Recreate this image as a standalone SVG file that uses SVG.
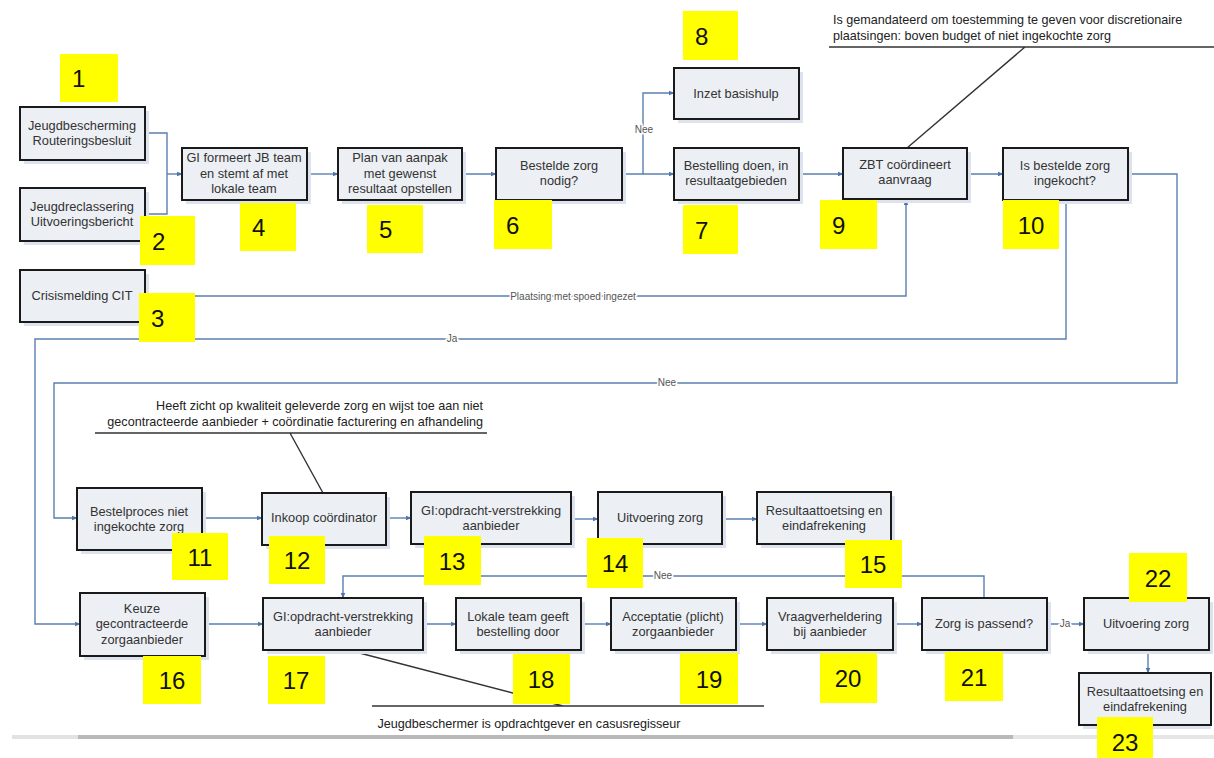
<svg xmlns="http://www.w3.org/2000/svg" width="1214" height="758" viewBox="0 0 1214 758">
<defs>
<marker id="arr" viewBox="0 0 10 10" refX="9" refY="5" markerWidth="6" markerHeight="6" orient="auto" markerUnits="userSpaceOnUse">
<path d="M0,1 L10,5 L0,9 z" fill="#4f74a8"/>
</marker>
<style>
.bx{fill:#eceff4;stroke:#1a1a1a;stroke-width:2}
.sh{fill:#dce3ee}
.t{font-family:"Liberation Sans",Arial,sans-serif;font-size:12.8px;fill:#333;text-anchor:middle}
.c{fill:none;stroke:#5b7fb0;stroke-width:1.4}
.ca{fill:none;stroke:#5b7fb0;stroke-width:1.4;marker-end:url(#arr)}
.lb{font-family:"Liberation Sans",Arial,sans-serif;font-size:10px;fill:#555;text-anchor:middle;stroke:#fff;stroke-width:3;paint-order:stroke}
.an{font-family:"Liberation Sans",Arial,sans-serif;font-size:12.6px;fill:#222}
.al{fill:none;stroke:#333;stroke-width:1.4}
.y{fill:#ffff00}
.n{font-family:"Liberation Sans",Arial,sans-serif;font-size:24px;fill:#111}
</style>
</defs>
<rect width="1214" height="758" fill="#fff"/>

<g id="annotations">
<text class="an" x="833" y="24">Is gemandateerd om toestemming te geven voor discretionaire</text>
<text class="an" x="833" y="40">plaatsingen: boven budget of niet ingekochte zorg</text>
<path class="al" d="M829,47 H1214 M1025,47 L907,148"/>
<text class="an" x="483" y="410" text-anchor="end">Heeft zicht op kwaliteit geleverde zorg en wijst toe aan niet</text>
<text class="an" x="483" y="426" text-anchor="end">gecontracteerde aanbieder + coördinatie facturering en afhandeling</text>
<path class="al" d="M95,433 H487 M290,433 L323,493"/>
<path class="al" d="M372,706 H764 M348,650 L563,706"/>
<text class="an" x="529" y="728" text-anchor="middle">Jeugdbeschermer is opdrachtgever en casusregisseur</text>
<rect x="12" y="735" width="66" height="4" fill="#e2e2e2"/>
<rect x="78" y="735" width="935" height="4" fill="#b9b9b9"/>
<rect x="1013" y="735" width="201" height="4" fill="#e6e6e6"/>
</g>

<g id="connectors">
<path class="c" d="M145,133 H167 V214 H145"/>
<path class="ca" d="M167,174 H182"/>
<path class="ca" d="M307,174 H338"/>
<path class="ca" d="M462,174 H496"/>
<path class="ca" d="M622,174 H674"/>
<path class="ca" d="M643,174 V93 H674"/>
<path class="ca" d="M799,174 H843"/>
<path class="ca" d="M967,174 H1003"/>
<path class="ca" d="M1128,174 H1177 V383 H54 V518 H77"/>
<path class="ca" d="M1066,200 V339 H35 V624 H80"/>
<path class="ca" d="M145,296 H906 V200"/>
<path class="ca" d="M202,518 H262"/>
<path class="ca" d="M386,518 H411"/>
<path class="ca" d="M571,519 H598"/>
<path class="ca" d="M722,519 H757"/>
<path class="ca" d="M205,624 H263"/>
<path class="ca" d="M423,624 H456"/>
<path class="ca" d="M581,624 H611"/>
<path class="ca" d="M736,624 H767"/>
<path class="ca" d="M893,624 H922"/>
<path class="ca" d="M1047,624 H1084"/>
<path class="ca" d="M984,598 V576 H343 V598"/>
<path class="ca" d="M1148,650 V673"/>
<text class="lb" x="644" y="133">Nee</text>
<text class="lb" x="667" y="386">Nee</text>
<text class="lb" x="452" y="342">Ja</text>
<text class="lb" x="573" y="299.5">Plaatsing met spoed ingezet</text>
<text class="lb" x="663" y="579">Nee</text>
<text class="lb" x="1065" y="627">Ja</text>
</g>

<g id="n1"><rect class="sh" x="24" y="111" width="125" height="53"/><rect class="bx" x="20" y="107" width="125" height="53"/><text class="t" x="82" y="130">Jeugdbescherming</text><text class="t" x="82" y="145">Routeringsbesluit</text></g>
<g id="n2"><rect class="sh" x="24" y="192" width="125" height="53"/><rect class="bx" x="20" y="188" width="125" height="53"/><text class="t" x="82" y="211">Jeugdreclassering</text><text class="t" x="82" y="226">Uitvoeringsbericht</text></g>
<g id="n3"><rect class="sh" x="24" y="274" width="125" height="52"/><rect class="bx" x="20" y="270" width="125" height="52"/><text class="t" x="82" y="300">Crisismelding CIT</text></g>
<g id="n4"><rect class="sh" x="186" y="152" width="125" height="52"/><rect class="bx" x="182" y="148" width="125" height="52"/><text class="t" x="244" y="162">GI formeert JB team</text><text class="t" x="244" y="178">en stemt af met</text><text class="t" x="244" y="193">lokale team</text></g>
<g id="n5"><rect class="sh" x="342" y="152" width="124" height="52"/><rect class="bx" x="338" y="148" width="124" height="52"/><text class="t" x="400" y="162">Plan van aanpak</text><text class="t" x="400" y="178">met gewenst</text><text class="t" x="400" y="193">resultaat opstellen</text></g>
<g id="n6"><rect class="sh" x="500" y="152" width="126" height="52"/><rect class="bx" x="496" y="148" width="126" height="52"/><text class="t" x="559" y="170">Bestelde zorg</text><text class="t" x="559" y="185">nodig?</text></g>
<g id="n7"><rect class="sh" x="678" y="152" width="125" height="52"/><rect class="bx" x="674" y="148" width="125" height="52"/><text class="t" x="736" y="170">Bestelling doen, in</text><text class="t" x="736" y="185">resultaatgebieden</text></g>
<g id="n8"><rect class="sh" x="678" y="72" width="125" height="51"/><rect class="bx" x="674" y="68" width="125" height="51"/><text class="t" x="736" y="98">Inzet basishulp</text></g>
<g id="n9"><rect class="sh" x="847" y="152" width="124" height="51"/><rect class="bx" x="843" y="148" width="124" height="51"/><text class="t" x="905" y="169">ZBT coördineert</text><text class="t" x="905" y="184">aanvraag</text></g>
<g id="n10"><rect class="sh" x="1007" y="152" width="125" height="52"/><rect class="bx" x="1003" y="148" width="125" height="52"/><text class="t" x="1065" y="170">Is bestelde zorg</text><text class="t" x="1065" y="185">ingekocht?</text></g>
<g id="n11"><rect class="sh" x="81" y="492" width="125" height="62"/><rect class="bx" x="77" y="488" width="125" height="62"/><text class="t" x="139" y="516">Bestelproces niet</text><text class="t" x="139" y="531">ingekochte zorg</text></g>
<g id="n12"><rect class="sh" x="266" y="497" width="124" height="52"/><rect class="bx" x="262" y="493" width="124" height="52"/><text class="t" x="324" y="522">Inkoop coördinator</text></g>
<g id="n13"><rect class="sh" x="415" y="496" width="160" height="52"/><rect class="bx" x="411" y="492" width="160" height="52"/><text class="t" x="491" y="515">GI:opdracht-verstrekking</text><text class="t" x="491" y="530">aanbieder</text></g>
<g id="n14"><rect class="sh" x="602" y="496" width="124" height="52"/><rect class="bx" x="598" y="492" width="124" height="52"/><text class="t" x="660" y="522">Uitvoering zorg</text></g>
<g id="n15"><rect class="sh" x="761" y="496" width="134" height="52"/><rect class="bx" x="757" y="492" width="134" height="52"/><text class="t" x="824" y="515">Resultaattoetsing en</text><text class="t" x="824" y="530">eindafrekening</text></g>
<g id="n16"><rect class="sh" x="84" y="597" width="125" height="63"/><rect class="bx" x="80" y="593" width="125" height="63"/><text class="t" x="142" y="613">Keuze</text><text class="t" x="142" y="628">gecontracteerde</text><text class="t" x="142" y="644">zorgaanbieder</text></g>
<g id="n17"><rect class="sh" x="267" y="602" width="160" height="52"/><rect class="bx" x="263" y="598" width="160" height="52"/><text class="t" x="343" y="621">GI:opdracht-verstrekking</text><text class="t" x="343" y="636">aanbieder</text></g>
<g id="n18"><rect class="sh" x="460" y="602" width="125" height="52"/><rect class="bx" x="456" y="598" width="125" height="52"/><text class="t" x="518" y="621">Lokale team geeft</text><text class="t" x="518" y="636">bestelling door</text></g>
<g id="n19"><rect class="sh" x="615" y="602" width="125" height="52"/><rect class="bx" x="611" y="598" width="125" height="52"/><text class="t" x="673" y="621">Acceptatie (plicht)</text><text class="t" x="673" y="636">zorgaanbieder</text></g>
<g id="n20"><rect class="sh" x="771" y="602" width="126" height="52"/><rect class="bx" x="767" y="598" width="126" height="52"/><text class="t" x="830" y="621">Vraagverheldering</text><text class="t" x="830" y="636">bij aanbieder</text></g>
<g id="n21"><rect class="sh" x="926" y="602" width="125" height="52"/><rect class="bx" x="922" y="598" width="125" height="52"/><text class="t" x="984" y="628">Zorg is passend?</text></g>
<g id="n22"><rect class="sh" x="1088" y="602" width="125" height="52"/><rect class="bx" x="1084" y="598" width="125" height="52"/><text class="t" x="1146" y="628">Uitvoering zorg</text></g>
<g id="n23"><rect class="sh" x="1083" y="677" width="128" height="52"/><rect class="bx" x="1079" y="673" width="132" height="52"/><text class="t" x="1145" y="696">Resultaattoetsing en</text><text class="t" x="1145" y="711">eindafrekening</text></g>

<g id="badges">
<g id="b1"><rect class="y" x="60" y="54" width="58" height="48"/><text class="n" x="72" y="87">1</text></g>
<g id="b2"><rect class="y" x="140" y="216" width="55" height="49"/><text class="n" x="152" y="250">2</text></g>
<g id="b3"><rect class="y" x="139" y="293" width="56" height="49"/><text class="n" x="151" y="327">3</text></g>
<g id="b4"><rect class="y" x="240" y="203" width="56" height="48"/><text class="n" x="252" y="236">4</text></g>
<g id="b5"><rect class="y" x="367" y="205" width="56" height="48"/><text class="n" x="379" y="238">5</text></g>
<g id="b6"><rect class="y" x="494" y="200" width="58" height="49"/><text class="n" x="506" y="234">6</text></g>
<g id="b7"><rect class="y" x="683" y="205" width="55" height="49"/><text class="n" x="695" y="239">7</text></g>
<g id="b8"><rect class="y" x="683" y="11" width="55" height="49"/><text class="n" x="695" y="45">8</text></g>
<g id="b9"><rect class="y" x="820" y="200" width="57" height="49"/><text class="n" x="832" y="234">9</text></g>
<g id="b10"><rect class="y" x="1003" y="200" width="56" height="49"/><text class="n" x="1031" y="234" text-anchor="middle">10</text></g>
<g id="b11"><rect class="y" x="172" y="533" width="56" height="47"/><text class="n" x="200" y="566" text-anchor="middle">11</text></g>
<g id="b12"><rect class="y" x="269" y="536" width="56" height="48"/><text class="n" x="297" y="569" text-anchor="middle">12</text></g>
<g id="b13"><rect class="y" x="424" y="536" width="57" height="49"/><text class="n" x="452" y="570" text-anchor="middle">13</text></g>
<g id="b14"><rect class="y" x="587" y="538" width="56" height="50"/><text class="n" x="615" y="572" text-anchor="middle">14</text></g>
<g id="b15"><rect class="y" x="845" y="540" width="57" height="48"/><text class="n" x="873" y="573" text-anchor="middle">15</text></g>
<g id="b16"><rect class="y" x="143" y="656" width="58" height="48"/><text class="n" x="172" y="689" text-anchor="middle">16</text></g>
<g id="b17"><rect class="y" x="268" y="656" width="57" height="48"/><text class="n" x="296" y="689" text-anchor="middle">17</text></g>
<g id="b18"><rect class="y" x="513" y="654" width="57" height="50"/><text class="n" x="541" y="688" text-anchor="middle">18</text></g>
<g id="b19"><rect class="y" x="680" y="653" width="58" height="51"/><text class="n" x="709" y="688" text-anchor="middle">19</text></g>
<g id="b20"><rect class="y" x="820" y="653" width="57" height="50"/><text class="n" x="848" y="687" text-anchor="middle">20</text></g>
<g id="b21"><rect class="y" x="945" y="652" width="58" height="49"/><text class="n" x="974" y="686" text-anchor="middle">21</text></g>
<g id="b22"><rect class="y" x="1129" y="553" width="58" height="49"/><text class="n" x="1158" y="587" text-anchor="middle">22</text></g>
<g id="b23"><rect class="y" x="1097" y="717" width="56" height="41"/><text class="n" x="1125" y="751" text-anchor="middle">23</text></g>
</g>
</svg>
